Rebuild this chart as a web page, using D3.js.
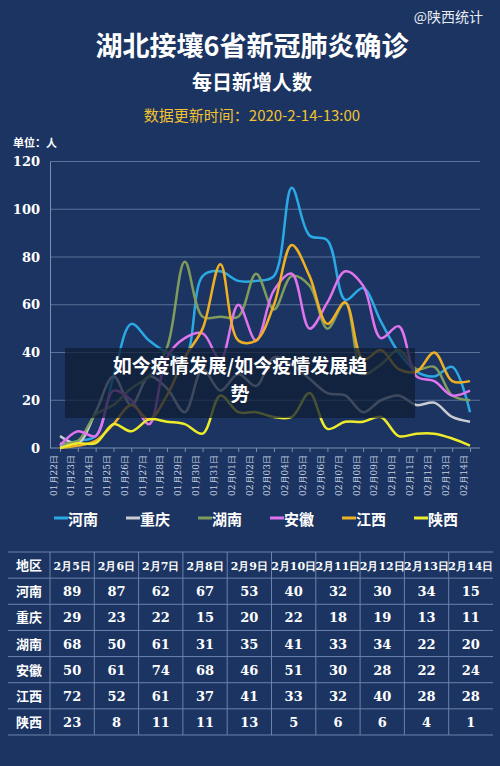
<!DOCTYPE html>
<html><head><meta charset="utf-8">
<script src="https://cdn.jsdelivr.net/npm/d3@7"></script>
<style>body{margin:0;background:#1b3461}</style>
</head><body><div id="chart"></div>
<script>
const dates = ["01月22日","01月23日","01月24日","01月25日","01月26日","01月27日","01月28日","01月29日","01月30日","01月31日","02月01日","02月02日","02月03日","02月04日","02月05日","02月06日","02月07日","02月08日","02月09日","02月10日","02月11日","02月12日","02月13日","02月14日"]
const regions = ["河南","重庆","湖南","安徽","江西","陕西"]
const colors = ["#2aa9e4","#c9ccd2","#7f9c5c","#e073ee","#f0b024","#eeeb2a"]
const henan   = [1,3,5,30,52,45,40,38,72,74,70,70,72,109,89,87,62,67,53,40,32,30,34,15]
const chongqing=[5,2,15,30,18,30,25,15,33,24,31,26,38,35,29,23,22,15,20,22,18,19,13,11]
const hunan   = [2,3,14,18,25,30,42,78,55,55,55,73,58,72,68,50,61,31,35,41,33,34,22,20]
const anhui   = [1,7,5,24,20,10,38,46,48,37,60,45,66,73,50,61,74,68,46,51,30,28,22,24]
const jiangxi = [0,1,3,10,18,12,22,38,50,77,45,45,60,85,72,52,61,37,41,33,32,40,28,28]
const shaanxi = [0,2,2,10,7,12,11,10,6,22,15,15,13,13,23,8,11,11,13,5,6,6,4,1]
const series = [henan, chongqing, hunan, anhui, jiangxi, shaanxi]
const yTicks = [0,20,40,60,80,100,120]
const tableDates = ["2月5日","2月6日","2月7日","2月8日","2月9日","2月10日","2月11日","2月12日","2月13日","2月14日"]
const tableStart = 14

const W = 500, H = 766
const svg = d3.select("#chart").append("svg").attr("width", W).attr("height", H)
svg.append("rect").attr("width", W).attr("height", H).attr("fill", "#1b3461")

const sans = "'Noto Sans CJK SC', sans-serif"
const serif = "'DejaVu Serif', 'Liberation Serif', serif"

// titles
svg.append("text").attr("x", 483).attr("y", 22).attr("text-anchor", "end")
  .attr("fill", "#e8ecf4").attr("font-size", 14).attr("font-family", sans).text("@陕西统计")
svg.append("text").attr("x", 252).attr("y", 56).attr("text-anchor", "middle")
  .attr("fill", "#fff").attr("font-size", 27).attr("font-weight", "bold").attr("font-family", sans).text("湖北接壤6省新冠肺炎确诊")
svg.append("text").attr("x", 252).attr("y", 90).attr("text-anchor", "middle")
  .attr("fill", "#fff").attr("font-size", 20).attr("font-weight", "bold").attr("font-family", sans).text("每日新增人数")
svg.append("text").attr("x", 252).attr("y", 121).attr("text-anchor", "middle")
  .attr("fill", "#f2c230").attr("font-size", 15).attr("font-family", sans).text("数据更新时间：2020-2-14-13:00")
svg.append("text").attr("x", 13).attr("y", 147)
  .attr("fill", "#fff").attr("font-size", 11).attr("font-weight", "bold").attr("font-family", sans).text("单位：人")

const x = d3.scalePoint().domain(dates).range([60, 470])
const y = d3.scaleLinear().domain([0, 120]).range([448, 161.5])

// gridlines
svg.append("g").selectAll("line").data(yTicks.slice(1)).join("line")
  .attr("x1", 50).attr("x2", 480).attr("y1", d => y(d)).attr("y2", d => y(d))
  .attr("stroke", "#5b7299").attr("stroke-width", 1)

const yAxis = svg.append("g").attr("transform", "translate(50,0)")
  .call(d3.axisLeft(y).tickValues(yTicks).tickSize(0).tickPadding(10))
yAxis.select(".domain").attr("stroke", "#7c8fb0")
yAxis.selectAll("text").attr("fill", "#fff").attr("font-size", 13).attr("font-weight", "bold").attr("font-family", serif)

const xAxis = svg.append("g").attr("transform", "translate(0,448)")
  .call(d3.axisBottom(x).tickSize(4))
xAxis.select(".domain").attr("stroke", "#7c8fb0").attr("d", "M50,0H480")
xAxis.selectAll(".tick line").attr("stroke", "#7c8fb0")
xAxis.selectAll("text").attr("fill", "#c9d1e0").attr("font-size", 9).attr("font-family", serif)
  .attr("transform", "rotate(-90)").attr("text-anchor", "end").attr("x", -7).attr("y", -4).attr("dy", 0)

const line = d3.line().x((d, i) => x(dates[i])).y(d => y(d)).curve(d3.curveCatmullRom.alpha(0.5))
svg.append("g").selectAll("path").data(series).join("path")
  .attr("d", line).attr("fill", "none").attr("stroke", (d, i) => colors[i]).attr("stroke-width", 2.5)

// overlay banner
svg.append("rect").attr("x", 65).attr("y", 348).attr("width", 350).attr("height", 70)
  .attr("fill", "#101d36").attr("opacity", 0.75)
svg.append("text").attr("x", 240).attr("y", 373).attr("text-anchor", "middle")
  .attr("fill", "#fff").attr("font-size", 19).attr("font-weight", "bold").attr("font-family", sans).text("如今疫情发展/如今疫情发展趋")
svg.append("text").attr("x", 240).attr("y", 401).attr("text-anchor", "middle")
  .attr("fill", "#fff").attr("font-size", 19).attr("font-weight", "bold").attr("font-family", sans).text("势")

// legend
const leg = svg.append("g").selectAll("g").data(regions).join("g")
  .attr("transform", (d, i) => `translate(${54 + i * 72},518)`)
leg.append("line").attr("x1", 0).attr("x2", 14).attr("y1", 0).attr("y2", 0)
  .attr("stroke", (d, i) => colors[i]).attr("stroke-width", 3)
leg.append("text").attr("x", 14).attr("y", 7).attr("fill", "#fff").attr("font-size", 15)
  .attr("font-weight", "bold").attr("font-family", sans).text(d => d)

// table
const firstW = 42
const colX = i => i === 0 ? 8 : 8 + firstW + (i - 1) * (485 - firstW) / 10
const colW = i => i === 0 ? firstW : (485 - firstW) / 10
const ty = d3.scaleBand().domain(d3.range(7)).range([552, 735])
const rows = [["地区", ...tableDates], ...regions.map((r, k) => [r, ...series[k].slice(tableStart)])]
const tg = svg.append("g")
ty.domain().forEach(r => {
  tg.append("line").attr("x1", 8).attr("x2", 493).attr("y1", ty(r)).attr("y2", ty(r))
    .attr("stroke", "#6c83ac").attr("stroke-width", 1)
})
tg.append("line").attr("x1", 8).attr("x2", 493).attr("y1", 735).attr("y2", 735).attr("stroke", "#6c83ac")
d3.range(1, 11).forEach(i => {
  tg.append("line").attr("x1", colX(i)).attr("x2", colX(i)).attr("y1", 552).attr("y2", 735)
    .attr("stroke", "#6c83ac")
})
rows.forEach((row, r) => {
  row.forEach((v, i) => {
    tg.append("text").attr("x", colX(i) + colW(i) / 2).attr("y", ty(r) + ty.bandwidth() / 2 + 5)
      .attr("text-anchor", "middle").attr("fill", "#fff")
      .attr("font-size", r === 0 && i > 0 ? 11 : 13).attr("font-weight", "bold")
      .attr("font-family", i === 0 ? sans : serif).text(v)
  })
})
</script></body></html>
